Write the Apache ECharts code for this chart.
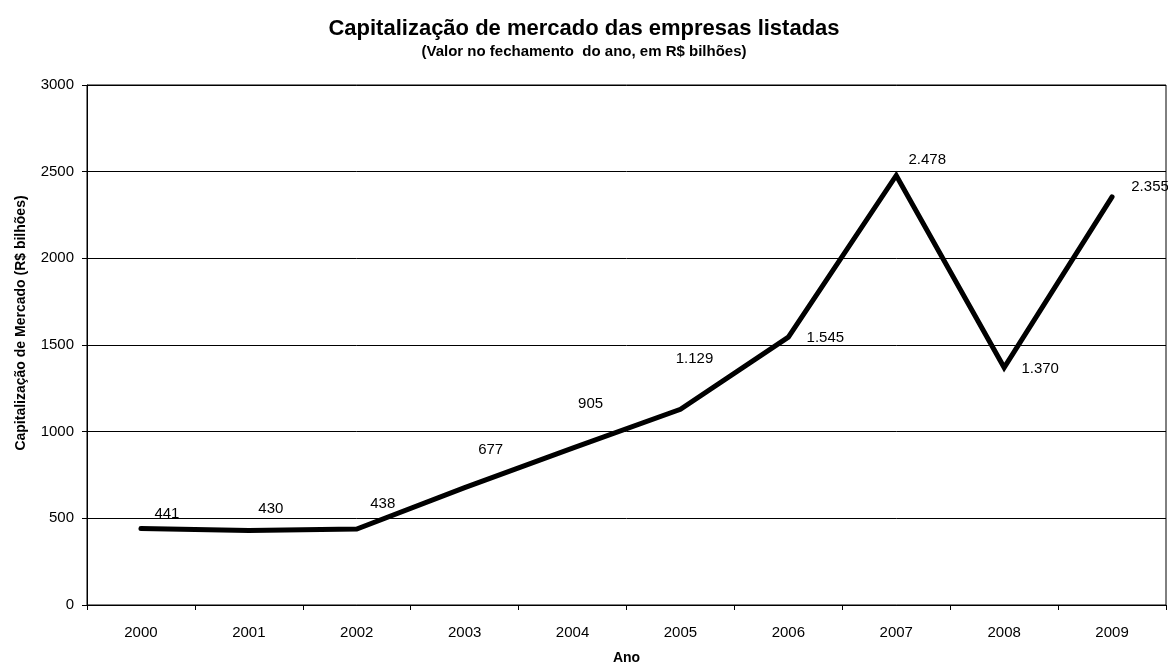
<!DOCTYPE html>
<html>
<head>
<meta charset="utf-8">
<script src="https://cdn.jsdelivr.net/npm/echarts@6/dist/echarts.min.js"></script>
<style>
  html, body { margin: 0; padding: 0; background: #fff; }
  #chart { width: 1168px; height: 664px; }
</style>
</head>
<body>
<div id="chart"></div>
<script>
// Anos e capitalização de mercado (R$ bilhões, fechamento do ano)
const anos = ['2000', '2001', '2002', '2003', '2004', '2005', '2006', '2007', '2008', '2009'];
const capitalizacao = [441, 430, 438, 677, 905, 1129, 1545, 2478, 1370, 2355];
// Deslocamento de cada rótulo em relação ao ponto [dx, dy]
const deslocRotulos = [[26, -15], [22, -22], [26, -25], [26, -38], [18, -44], [14, -50], [37, 1], [31, -16], [36, 1], [38, -10]];

const fmtBR = v => v.toLocaleString('pt-BR');
const fonte = '"Liberation Sans", Arial, sans-serif';

const chart = echarts.init(document.getElementById('chart'), null, { renderer: 'canvas' });

const dados = capitalizacao.map((v, i) => ({
  value: v,
  label: { offset: deslocRotulos[i] }
}));

chart.setOption({
  backgroundColor: '#ffffff',
  animation: false,
  title: [
    {
      text: 'Capitalização de mercado das empresas listadas',
      left: 'center',
      top: 13,
      textStyle: { fontFamily: fonte, fontWeight: 'bold', fontSize: 22, color: '#000' }
    },
    {
      text: '(Valor no fechamento  do ano, em R$ bilhões)',
      left: 'center',
      top: 39,
      textStyle: { fontFamily: fonte, fontWeight: 'bold', fontSize: 15, color: '#000' }
    }
  ],
  grid: {
    left: 87, right: 2, top: 85, bottom: 59,
    containLabel: false,
    outerBoundsMode: 'none',
    show: true, borderColor: '#000', borderWidth: 1, backgroundColor: 'transparent'
  },
  xAxis: {
    type: 'category',
    data: anos,
    boundaryGap: true,
    name: 'Ano',
    nameLocation: 'middle',
    nameGap: 46,
    nameTextStyle: { fontFamily: fonte, fontWeight: 'bold', fontSize: 14, color: '#000' },
    axisLine: { lineStyle: { color: '#000', width: 1 } },
    axisTick: { show: true, interval: 0, alignWithLabel: false, length: 5, lineStyle: { color: '#000' } },
    axisLabel: { fontFamily: fonte, fontSize: 15, color: '#000', margin: 20, interval: 0 },
    splitLine: { show: false }
  },
  yAxis: {
    type: 'value',
    min: 0, max: 3000, interval: 500,
    name: 'Capitalização de Mercado (R$ bilhões)',
    nameLocation: 'middle',
    nameGap: 59,
    nameTextStyle: { fontFamily: fonte, fontWeight: 'bold', fontSize: 14, color: '#000', padding: [0, 0, 0, 44] },
    axisLine: { show: true, lineStyle: { color: '#000', width: 1 } },
    axisTick: { show: true, length: 5, lineStyle: { color: '#000' } },
    axisLabel: { fontFamily: fonte, fontSize: 15, color: '#000', margin: 13, formatter: v => String(v) },
    splitLine: { show: true, lineStyle: { color: '#000', width: 1 } }
  },
  series: [{
    type: 'line',
    data: dados,
    showSymbol: true,
    symbol: 'circle',
    symbolSize: 1,
    itemStyle: { color: '#000' },
    lineStyle: { color: '#000', width: 5, cap: 'round', join: 'miter' },
    label: {
      show: true,
      position: 'inside',
      formatter: p => fmtBR(p.value),
      fontFamily: fonte,
      fontSize: 15,
      color: '#000'
    },
    emphasis: { disabled: true },
    z: 5
  }]
});
</script>
</body>
</html>
